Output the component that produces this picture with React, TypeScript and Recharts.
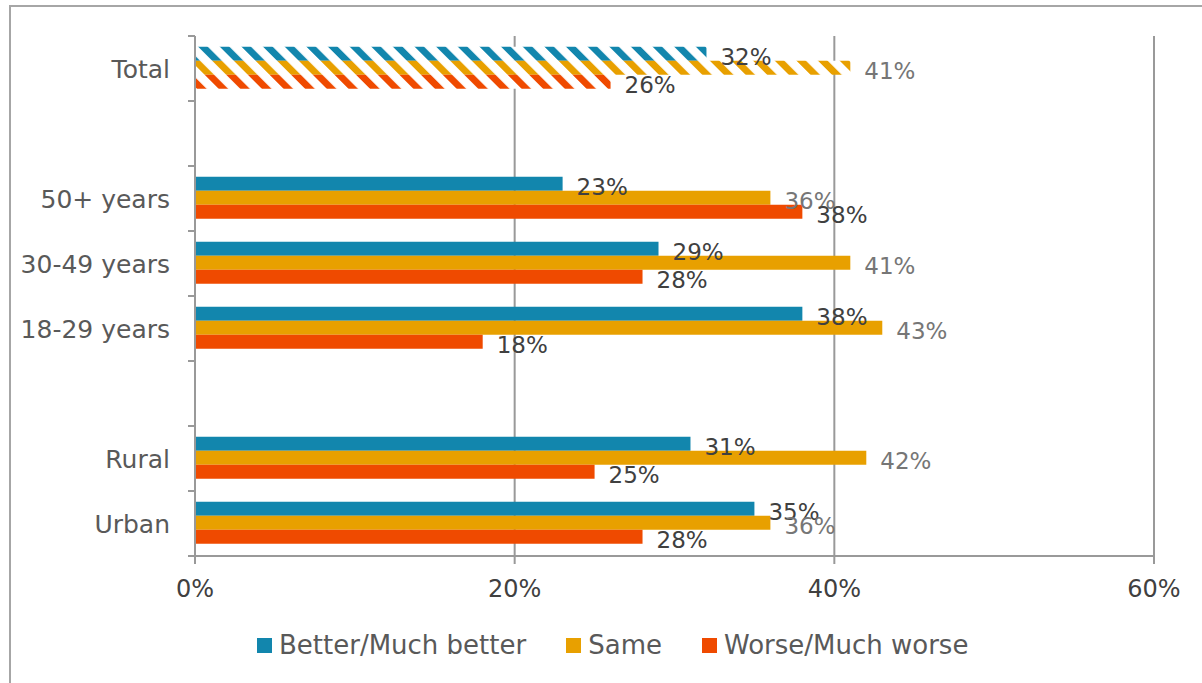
import { BarChart, Bar, XAxis, YAxis, CartesianGrid, LabelList, Cell } from 'recharts';

// categories top to bottom, blank rows are spacers
const categories = ['Total', ' ', '50+ years', '30-49 years', '18-29 years', '  ', 'Rural', 'Urban'];
const better = [32, null, 23, 29, 38, null, 31, 35];
const same = [41, null, 36, 41, 43, null, 42, 36];
const worse = [26, null, 38, 28, 18, null, 25, 28];
const seriesNames = ['Better/Much better', 'Same', 'Worse/Much worse'];
const xTicks = [0, 20, 40, 60];
const hatchedCategory = 'Total';

const colors = ['#1286ad', '#e8a000', '#ef4a00'];
const labelColors = ['#404040', '#767676', '#404040'];
const keys = ['better', 'same', 'worse'];

const W = 1202;
const H = 683;
const MARGIN = { top: 36, right: 48, left: 0, bottom: 87 };
const Y_AXIS_W = 195;
const X_AXIS_H = 40;
const PLOT_H = H - MARGIN.top - MARGIN.bottom - X_AXIS_H;
const BAND = PLOT_H / categories.length;
const AXIS_X = MARGIN.left + Y_AXIS_W;
const FONT = '"DejaVu Sans", sans-serif';
const AXIS_GRAY = '#999999';

const data = categories.map((name, i) => ({
    name,
    better: better[i],
    same: same[i],
    worse: worse[i],
}));

function CategoryTick({ y, payload, index }: any) {
    return (
        <g>
            <line x1={AXIS_X - 7} x2={AXIS_X} y1={y - BAND / 2} y2={y - BAND / 2} stroke={AXIS_GRAY} strokeWidth={2} />
            {index === categories.length - 1 && (
                <line x1={AXIS_X - 7} x2={AXIS_X} y1={y + BAND / 2} y2={y + BAND / 2} stroke={AXIS_GRAY} strokeWidth={2} />
            )}
            <text
                x={AXIS_X - 25}
                y={y}
                dy="0.36em"
                textAnchor="end"
                fill="#595959"
                fontSize={25}
                fontFamily={FONT}
            >
                {payload.value}
            </text>
        </g>
    );
}

export default function App() {
    return (
        <div style={{ position: 'fixed', left: 0, top: 0, width: W, height: H, overflow: 'hidden', background: '#fff' }}>
            <div
                style={{
                    position: 'absolute',
                    left: 9,
                    top: 5,
                    width: 1240,
                    height: 720,
                    border: '2px solid #a6a6a6',
                }}
            />
            <svg width={0} height={0} style={{ position: 'absolute' }}>
                <defs>
                    {colors.map((c, i) => (
                        <pattern
                            key={i}
                            id={`hatch-${i}`}
                            patternUnits="userSpaceOnUse"
                            width={15.3}
                            height={15.3}
                            patternTransform="rotate(-45)"
                        >
                            <rect width={15.3} height={15.3} fill="#ffffff" />
                            <rect width={6.8} height={15.3} fill={c} />
                        </pattern>
                    ))}
                </defs>
            </svg>
            <div style={{ position: 'absolute', left: 0, top: 0 }}>
                <BarChart
                    width={W}
                    height={H}
                    data={data}
                    layout="vertical"
                    margin={MARGIN}
                    barCategoryGap="16.6%"
                    barGap={0}
                >
                    <CartesianGrid horizontal={false} vertical={true} stroke={AXIS_GRAY} strokeWidth={2} />
                    <XAxis
                        type="number"
                        domain={[0, 60]}
                        ticks={xTicks}
                        height={X_AXIS_H}
                        tickFormatter={(v) => `${v}%`}
                        axisLine={{ stroke: AXIS_GRAY, strokeWidth: 2 }}
                        tickLine={{ stroke: AXIS_GRAY, strokeWidth: 2 }}
                        tickSize={8}
                        tickMargin={16}
                        tick={{ fill: '#404040', fontSize: 24, fontFamily: FONT }}
                    />
                    <YAxis
                        type="category"
                        dataKey="name"
                        width={Y_AXIS_W}
                        axisLine={{ stroke: AXIS_GRAY, strokeWidth: 2 }}
                        tickLine={false}
                        tickSize={7}
                        tickMargin={18}
                        interval={0}
                        tick={<CategoryTick />}
                    />
                    {keys.map((k, si) => (
                        <Bar key={k} dataKey={k} name={seriesNames[si]} fill={colors[si]} isAnimationActive={false}>
                            {data.map((d, i) => (
                                <Cell key={i} fill={d.name === hatchedCategory ? `url(#hatch-${si})` : colors[si]} />
                            ))}
                            <LabelList
                                dataKey={k}
                                position="right"
                                offset={14}
                                dy={3}
                                formatter={(v: any) => (v == null ? '' : `${v}%`)}
                                fill={labelColors[si]}
                                fontSize={23}
                                fontFamily={FONT}
                            />
                        </Bar>
                    ))}
                </BarChart>
            </div>
            <div
                style={{
                    position: 'absolute',
                    left: 257,
                    top: 630,
                    display: 'flex',
                    alignItems: 'center',
                    fontFamily: FONT,
                    fontSize: 26,
                    color: '#595959',
                    whiteSpace: 'nowrap',
                }}
            >
                {seriesNames.map((n, i) => (
                    <div key={n} style={{ display: 'flex', alignItems: 'center', marginRight: 40 }}>
                        <span style={{ display: 'inline-block', width: 15, height: 15, background: colors[i], marginRight: 7 }} />
                        <span>{n}</span>
                    </div>
                ))}
            </div>
        </div>
    );
}
